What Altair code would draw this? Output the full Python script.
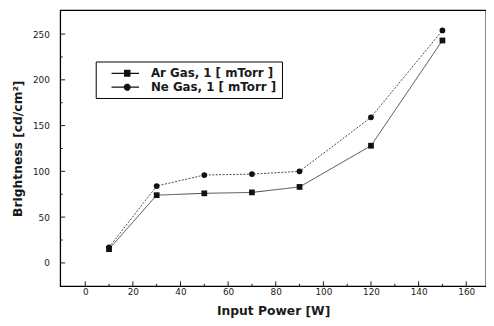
import altair as alt
import pandas as pd
import math

power = [10, 30, 50, 70, 90, 120, 150]
ar_gas = [15, 74, 76, 77, 83, 128, 243]
ne_gas = [17, 84, 96, 97, 100, 159, 254]
series = ["Ar Gas, 1 [ mTorr ]", "Ne Gas, 1 [ mTorr ]"]

x_major = [0, 20, 40, 60, 80, 100, 120, 140, 160]
x_minor = [10, 30, 50, 70, 90, 110, 130, 150]
y_major = [0, 50, 100, 150, 200, 250]
y_minor = [25, 75, 125, 175, 225]

rows = []
for p, a, n in zip(power, ar_gas, ne_gas):
    rows.append({"power": p, "value": a, "series": series[0]})
    rows.append({"power": p, "value": n, "series": series[1]})
df = pd.DataFrame(rows)

W, H = 432, 280
xs = alt.Scale(domain=[-10.5, 168.3], nice=False, zero=False)
ys = alt.Scale(domain=[-25.5, 276], nice=False, zero=False)

FONT = "DejaVu Sans"
INK = "#1a1a1a"

x_enc = alt.X("power:Q", scale=xs, axis=alt.Axis(
    values=x_major, ticks=False, domain=False, grid=False, labelFont=FONT,
    labelFontSize=9, labelColor=INK, labelPadding=1, title="Input Power [W]",
    titleFont=FONT, titleFontSize=12.5, titleFontWeight="bold", titleColor=INK,
    titlePadding=9))
y_enc = alt.Y("value:Q", scale=ys, axis=alt.Axis(
    values=y_major, ticks=False, domain=False, grid=False, labelFont=FONT,
    labelFontSize=9, labelColor=INK, labelPadding=11, title="Brightness [cd/cm²]",
    titleFont=FONT, titleFontSize=12.5, titleFontWeight="bold", titleColor=INK,
    titlePadding=8))

lines = alt.Chart(df).mark_line(strokeWidth=0.9, color="#333").encode(
    x=x_enc, y=y_enc,
    strokeDash=alt.StrokeDash("series:N", scale=alt.Scale(domain=series, range=[[1, 0], [2, 1.5]]), legend=None),
    detail="series:N",
)

pts = alt.Chart(df).mark_point(filled=True, color="#111", opacity=1, size=34).encode(
    x="power:Q", y="value:Q",
    shape=alt.Shape("series:N", scale=alt.Scale(domain=series, range=["square", "circle"]), legend=None),
)

# legend glyphs (unit = 6 px for symbolSize 144): a line with a marker drawn as stacked strokes
u = 1 / 6
x0, x1, xc = 0.67, 5.33, 3.33
sq = f"M{x0},0H{x1}" + "".join(
    f"M{xc - 0.55:.3f},{k * u:.3f}H{xc + 0.55:.3f}" for k in range(-3, 4))
r = 0.58
ci = f"M{x0},0H{x1}" + "".join(
    f"M{xc - math.sqrt(max(r * r - (k * u) ** 2, 0)):.3f},{k * u:.3f}H{xc + math.sqrt(max(r * r - (k * u) ** 2, 0)):.3f}"
    for k in range(-3, 4))

legend_layer = alt.Chart(df).mark_point(filled=False, color="#111", opacity=0, strokeWidth=1).encode(
    x="power:Q", y="value:Q",
    shape=alt.Shape("series:N", scale=alt.Scale(domain=series, range=[sq, ci]), legend=alt.Legend(
        orient="none", legendX=36, legendY=52, title=None, strokeColor="black",
        padding=5, symbolSize=144, symbolOpacity=1,
        symbolStrokeColor="#111", symbolStrokeWidth=1.1, labelFont=FONT,
        labelFontSize=12, labelFontWeight="bold", labelColor=INK, rowPadding=1,
        labelOffset=37)),
)

tick_df_xM = pd.DataFrame({"t": x_major})
tick_df_xm = pd.DataFrame({"t": x_minor})
tick_df_yM = pd.DataFrame({"t": y_major})
tick_df_ym = pd.DataFrame({"t": y_minor})

xtM = alt.Chart(tick_df_xM).mark_rule(color=INK, strokeWidth=1).encode(
    x=alt.X("t:Q", scale=xs), y=alt.value(H), y2=alt.value(H - 5))
xtm = alt.Chart(tick_df_xm).mark_rule(color=INK, strokeWidth=1).encode(
    x=alt.X("t:Q", scale=xs), y=alt.value(H), y2=alt.value(H - 2.5))
ytM = alt.Chart(tick_df_yM).mark_rule(color=INK, strokeWidth=1).encode(
    y=alt.Y("t:Q", scale=ys), x=alt.value(0), x2=alt.value(5))
ytm = alt.Chart(tick_df_ym).mark_rule(color=INK, strokeWidth=1).encode(
    y=alt.Y("t:Q", scale=ys), x=alt.value(0), x2=alt.value(2.5))

chart = alt.layer(lines, pts, legend_layer, xtM, xtm, ytM, ytm).resolve_scale(
    shape="independent", strokeDash="independent"
).properties(
    width=W, height=H, autosize=alt.AutoSizeParams(type="none"),
    padding={"left": 53, "top": 0, "right": 0, "bottom": 35},
    background="white",
).configure_view(stroke="black", strokeWidth=1.3)

chart.save("out.html", embed_options={"renderer": "svg", "actions": False})
